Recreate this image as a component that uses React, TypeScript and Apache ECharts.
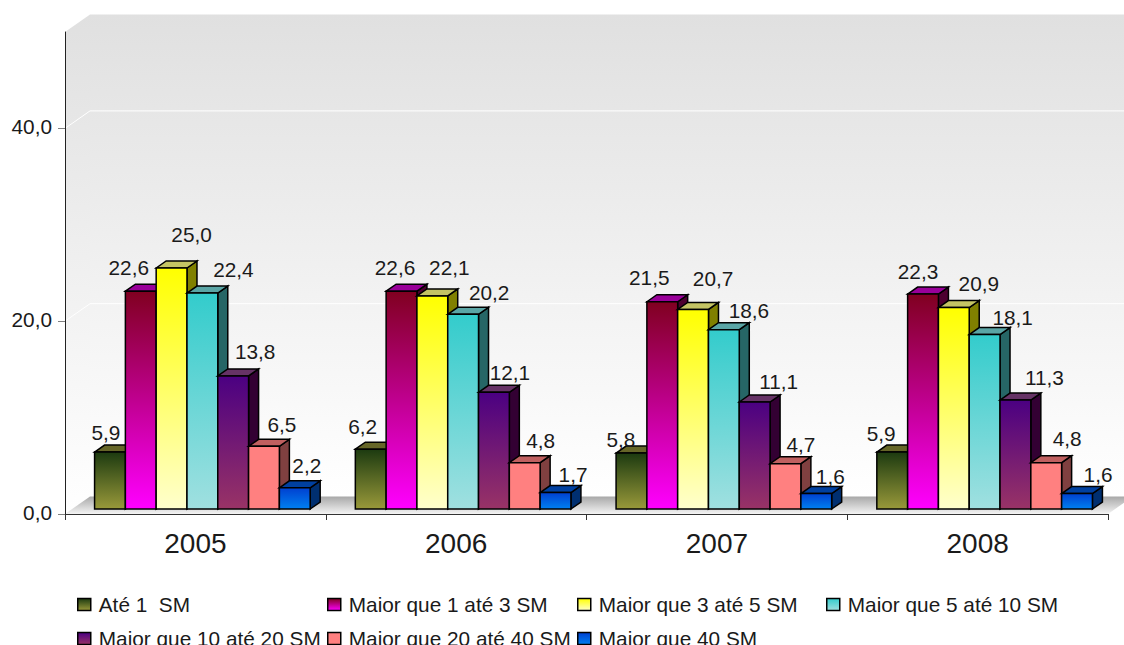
import React, { useEffect, useRef } from "react";
import * as echarts from "echarts";

const categories = ["2005", "2006", "2007", "2008"];
const seriesNames = [
  "Até 1  SM",
  "Maior que 1 até 3 SM",
  "Maior que 3 até 5 SM",
  "Maior que 5 até 10 SM",
  "Maior que 10 até 20 SM",
  "Maior que 20 até 40 SM",
  "Maior que 40 SM",
];
const upTo1 = [5.9, 6.2, 5.8, 5.9];
const from1To3 = [22.6, 22.6, 21.5, 22.3];
const from3To5 = [25.0, 22.1, 20.7, 20.9];
const from5To10 = [22.4, 20.2, 18.6, 18.1];
const from10To20 = [13.8, 12.1, 11.1, 11.3];
const from20To40 = [6.5, 4.8, 4.7, 4.8];
const over40 = [2.2, 1.7, 1.6, 1.6];
const allValues = [upTo1, from1To3, from3To5, from5To10, from10To20, from20To40, over40];
const yTicks = [0, 20, 40];

// Style only: gradient of the front face (top, bottom), roof colour, side colour.
const barColors = [
  ["#1c3a10", "#99993a", "#666628", "#4d4d1e"],
  ["#800020", "#ff00ff", "#990099", "#4d0030"],
  ["#ffff00", "#ffffcc", "#c4c464", "#808000"],
  ["#33cccc", "#a0e0e0", "#5aa5a5", "#266666"],
  ["#4b0082", "#993366", "#663366", "#330033"],
  ["#ff8080", "#ff8080", "#c06060", "#804040"],
  ["#0040d0", "#0080f0", "#0040a0", "#002f70"],
];
// Hand-placed label nudges of the original, per category then per series [dx, dy].
const labelNudges = [
  [[-4, -20], [-12, -24], [20, -34], [31, -24], [22, -24], [18, -22], [12, -22]],
  [[-8, -23], [-6.5, -24], [17, -28], [26, -22], [16, -20], [16, -22], [17.5, -18]],
  [[-10.5, -14], [-13, -24], [20, -31], [25, -19], [24, -20], [15.5, -19], [14, -17]],
  [[-11, -19], [-5, -23], [25, -24.5], [28, -17.5], [29, -23], [21, -24], [21, -18.6]],
];
const legendSpots = [
  [77, 594], [327, 594], [577, 594], [826, 594],
  [77, 628], [327, 628], [577, 628],
];

const FONT = "Liberation Sans";
const LABEL_SIZE = 20.8;
const BAR_W = 30.8;
const DEPTH_X = 10;
const DEPTH_Y = -7;
const SHIFT_X = 7;
const SHIFT_Y = -5;
const WALL_X = 25;
const WALL_Y = -17.5;

const grad = (a: string, b: string) =>
  new echarts.graphic.LinearGradient(0, 0, 0, 1, [
    { offset: 0, color: a },
    { offset: 1, color: b },
  ]);
const comma = (v: number) => v.toFixed(1).replace(".", ",");

function renderBackdrop(params: any, api: any) {
  const c = params.coordSys;
  const x0 = c.x;
  const x1 = c.x + c.width;
  const yTop = c.y;
  const yBase = c.y + c.height;
  const wx = x0 + WALL_X;
  const wr = x1 + WALL_X;
  const children: any[] = [
    {
      type: "polygon",
      shape: { points: [[x0, yTop], [wx, yTop + WALL_Y], [wx, yBase + WALL_Y], [x0, yBase]] },
      style: { fill: grad("#e0e0e0", "#ffffff") },
    },
    {
      type: "rect",
      shape: { x: wx, y: yTop + WALL_Y, width: wr - wx, height: c.height },
      style: { fill: grad("#e0e0e0", "#ffffff") },
    },
    {
      type: "polygon",
      shape: { points: [[x0, yBase], [wx, yBase + WALL_Y], [wr, yBase + WALL_Y], [x1, yBase]] },
      style: { fill: grad("#a8a8a8", "#f4f4f4") },
    },
  ];
  yTicks.filter((t) => t > 0).forEach((t) => {
    const y = api.coord([0, t])[1];
    children.push({
      type: "polyline",
      shape: { points: [[x0, y], [wx, y + WALL_Y], [wr, y + WALL_Y]] },
      style: { fill: "none", stroke: "#ffffff", lineWidth: 1 },
    });
  });
  return { type: "group", children };
}

const renderBar = (si: number) => (params: any, api: any) => {
  const cat = api.value(0);
  const v = api.value(1);
  const base = api.coord([cat, 0]);
  const top = api.coord([cat, v]);
  const xL = base[0] + SHIFT_X + (si - 3.5) * BAR_W;
  const xR = xL + BAR_W;
  const yB = base[1] + SHIFT_Y;
  const yT = top[1] + SHIFT_Y;
  const [c0, c1, roof, side] = barColors[si];
  const line = { stroke: "#000000", lineWidth: 1.5, lineJoin: "miter" };
  const n = labelNudges[cat][si];
  return {
    type: "group",
    children: [
      {
        type: "polygon",
        shape: { points: [[xR, yB], [xR + DEPTH_X, yB + DEPTH_Y], [xR + DEPTH_X, yT + DEPTH_Y], [xR, yT]] },
        style: { fill: side, ...line },
      },
      {
        type: "polygon",
        shape: { points: [[xL, yT], [xL + DEPTH_X, yT + DEPTH_Y], [xR + DEPTH_X, yT + DEPTH_Y], [xR, yT]] },
        style: { fill: roof, ...line },
      },
      {
        type: "rect",
        shape: { x: xL, y: yT, width: BAR_W, height: yB - yT },
        style: { fill: grad(c0, c1), ...line },
      },
      {
        type: "text",
        z2: 100,
        style: {
          x: xL + BAR_W / 2 + n[0],
          y: yT + n[1],
          text: comma(v),
          fill: "#1a1a1a",
          font: `${LABEL_SIZE}px "${FONT}"`,
          align: "center",
          verticalAlign: "middle",
        },
      },
    ],
  };
};

export default function App() {
  const ref = useRef<HTMLDivElement>(null);
  useEffect(() => {
    document.body.style.margin = "0";
    const chart = echarts.init(ref.current!, undefined, { renderer: "svg" });
    chart.setOption({
      animation: false,
      backgroundColor: "#ffffff",
      textStyle: { fontFamily: FONT },
      grid: { left: 65, right: 16, top: 32, bottom: 131 },
      xAxis: {
        type: "category",
        data: categories,
        axisLine: { lineStyle: { color: "#333333", width: 1 } },
        axisTick: { show: true, length: 6, lineStyle: { color: "#333333" } },
        axisLabel: { fontFamily: FONT, fontSize: 28, color: "#1a1a1a", margin: 15 },
      },
      yAxis: {
        type: "value",
        min: 0,
        max: 50,
        interval: 10,
        splitLine: { show: false },
        axisLine: { show: true, lineStyle: { color: "#222222", width: 1 } },
        axisTick: { show: true, length: 7, lineStyle: { color: "#808080" }, customValues: yTicks },
        axisLabel: {
          fontFamily: FONT,
          fontSize: LABEL_SIZE,
          color: "#1a1a1a",
          margin: 13,
          verticalAlign: "bottom",
          lineHeight: 4,
          customValues: yTicks,
          formatter: (v: number) => comma(v),
        },
      },
      legend: seriesNames.map((name, i) => ({
        left: legendSpots[i][0],
        top: legendSpots[i][1],
        padding: 0,
        icon: "rect",
        itemWidth: 13,
        itemHeight: 12,
        selectedMode: false,
        textStyle: { fontFamily: FONT, fontSize: LABEL_SIZE, color: "#1a1a1a", padding: [0, 0, 2, 3] },
        data: [
          {
            name,
            itemStyle: { color: grad(barColors[i][0], barColors[i][1]), borderColor: "#000000", borderWidth: 1.5 },
          },
        ],
      })),
      series: [
        {
          type: "custom",
          name: "fundo",
          silent: true,
          z: 0,
          data: [[0, 0]],
          renderItem: renderBackdrop,
        },
        ...seriesNames.map((name, si) => ({
          type: "custom",
          name,
          z: 2 + si,
          clip: false,
          encode: { x: 0, y: 1 },
          itemStyle: { color: barColors[si][1] },
          data: allValues[si].map((v, c) => [c, v]),
          renderItem: renderBar(si),
        })),
      ],
    });
    return () => chart.dispose();
  }, []);
  return <div ref={ref} style={{ position: "absolute", left: 0, top: 0, width: 1124, height: 645 }} />;
}
